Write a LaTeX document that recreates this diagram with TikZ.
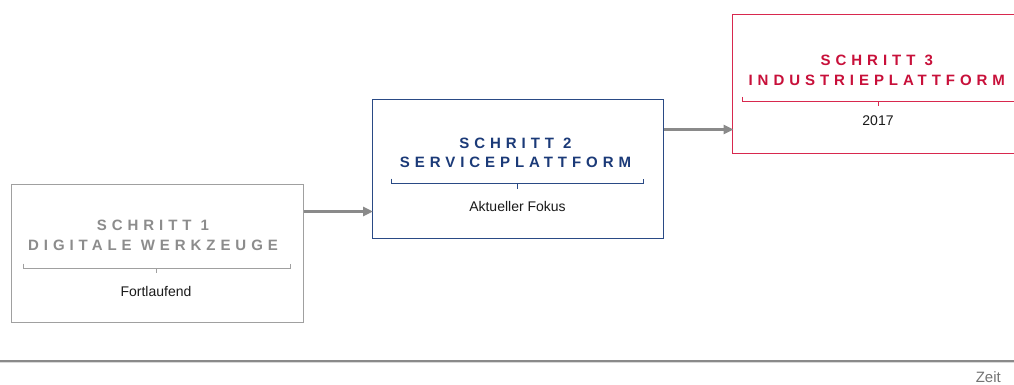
\documentclass[tikz,border=0pt]{standalone}
\usepackage{fontspec}
\setmainfont{Liberation Sans}
\newfontfamily\hdrfont[LetterSpace=33]{Liberation Sans}
\usetikzlibrary{arrows.meta}
\definecolor{grayTxt}{HTML}{8C8C8C}
\definecolor{grayBox}{HTML}{A0A0A0}
\definecolor{blueTxt}{HTML}{1B3A78}
\definecolor{blueBox}{HTML}{2A4A85}
\definecolor{redTxt}{HTML}{C8103A}
\definecolor{crimsonBox}{HTML}{D8284E}
\definecolor{arrowGray}{HTML}{8A8A8A}
\definecolor{subTxt}{HTML}{1A1A1A}
\begin{document}
\begin{tikzpicture}[x=1pt,y=-1pt,
  stepbox/.style={draw, line width=1pt, fill=white, anchor=north west, inner sep=0pt},
  hdr/.style={anchor=base, inner sep=0pt, font=\hdrfont\bfseries\fontsize{15}{17}\selectfont},
  sub/.style={anchor=base, inner sep=0pt, text=subTxt, font=\fontsize{14}{16}\selectfont},
  brace/.style={line width=0.9pt},
  conn/.style={line width=2.6pt, draw=arrowGray, -{Triangle[length=10pt,width=9pt]}, shorten >=-1pt}
]
\useasboundingbox (0,0) rectangle (1014,385);

% Box 1
\node[stepbox, draw=grayBox, minimum width=292pt, minimum height=138pt] (b1) at (10.5,183.5) {};
\node[hdr, text=grayTxt] (h1a) at (153,230.5) {SCHRITT 1};
\node[hdr, text=grayTxt] (h1b) at (153,250) {DIGITALE WERKZEUGE};
\node[sub] (s1) at (156,296) {Fortlaufend};
\draw[brace, draw=grayBox] (23,263.5) -- (23,268) -- (290,268) -- (290,263.5) (156,268) -- (156,272.5);

% Box 2
\node[stepbox, draw=blueBox, minimum width=291pt, minimum height=138pt] (b2) at (372,99.5) {};
\node[hdr, text=blueTxt] (h2a) at (515.5,148) {SCHRITT 2};
\node[hdr, text=blueTxt] (h2b) at (515.5,167) {SERVICEPLATTFORM};
\node[sub] (s2) at (517.5,211.5) {Aktueller Fokus};
\draw[brace, draw=blueBox] (391.5,178.5) -- (391.5,183) -- (643.5,183) -- (643.5,178.5) (517.5,183) -- (517.5,188.5);

% Box 3
\node[anchor=north west, inner sep=0pt, minimum width=291pt, minimum height=138pt, fill=white] (b3) at (732.5,15) {};
\draw[line width=1pt, draw=crimsonBox] (b3.north east) -- (b3.north west) -- (b3.south west) -- (b3.south east);
\node[hdr, text=redTxt] (h3a) at (876.8,65.5) {SCHRITT 3};
\node[hdr, text=redTxt] (h3b) at (876.8,85.5) {INDUSTRIEPLATTFORM};
\node[sub] (s3) at (878,126) {2017};
\draw[brace, draw=crimsonBox] (742,97) -- (742,101.5) -- (1020,101.5) (878.5,101.5) -- (878.5,106.5);

% Arrows
\coordinate (a1s) at (b1.east |- 0,211.5);
\coordinate (a1e) at (b2.west |- 0,211.5);
\coordinate (a2s) at (b2.east |- 0,129.5);
\coordinate (a2e) at (b3.west |- 0,129.5);
\draw[conn] (a1s) -- (a1e);
\draw[conn] (a2s) -- (a2e);

% Time axis
\coordinate (tl) at (0,361);
\coordinate (tr) at (1014,361);
\draw[line width=2pt, draw=arrowGray] (tl) -- (tr);
\draw[line width=0.8pt, draw=black!15] (0,362.6) -- (1014,362.6);
\node[anchor=base east, inner sep=0pt, text=black!55, font=\fontsize{15}{17}\selectfont] (zeit) at (1001,382.5) {Zeit};
\end{tikzpicture}
\end{document}
